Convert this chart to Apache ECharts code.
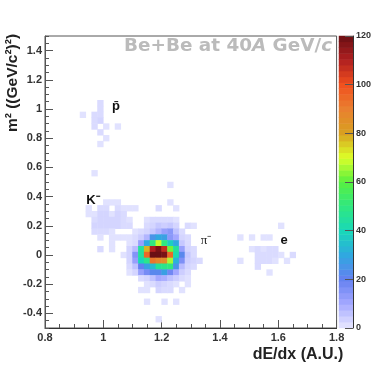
<!DOCTYPE html>
<html>
<head>
    <meta charset="utf-8">
    <title>Be+Be at 40A GeV/c</title>
    <style>html,body{margin:0;padding:0;background:#fff}</style>
</head>
<body>
    <div id="main" style="width:374px;height:365px;"></div>
    <script src="https://cdn.jsdelivr.net/npm/echarts@6/dist/echarts.min.js"></script>
    <script type="text/javascript">
        // tick labels of the m2 axis, palette stops of the colour scale (0 -> 120, every 10)
        var m2Ticks = [-0.4, -0.2, 0, 0.2, 0.4, 0.6, 0.8, 1, 1.2, 1.4];
        var palette = ['#e8e8ff', '#a4a8ff', '#6480f0', '#30a8e0', '#18d8b8', '#30e880', '#58f040',
                       '#dcff28', '#d8a020', '#e98030', '#f0501e', '#b02020', '#6b0f14'];

        // histogram: row number (from the bottom, 0.04 per row),
        // first dE/dx bin of the row (0.02 per bin), counts from that bin on
        var rowNumber = [
            38, 37, 36, 35, 34, 33, 32, 31, 26,
            24, 21, 20, 19, 18, 17, 16, 15, 14,
            13, 12, 11, 10, 9, 8, 7, 6, 4, 1
        ];
        var rowFirstBin = [
            9, 9, 6, 8, 8, 9, 10, 9, 8,
            21, 10, 7, 7, 8, 8, 8, 9, 11,
            9, 13, 14, 14, 14, 16, 17, 16, 17, 19
        ];
        var rowCounts = [
            [2],
            [2],
            [1, 0, 2, 2],
            [2, 3],
            [2, 0, 1, 0, 1],
            [2],
            [1],
            [1],
            [1],
            [1],
            [1, 1, 1, 0, 0, 0, 0, 0, 0, 0, 0, 1],
            [1, 0, 2, 2, 0, 2, 1, 1, 1, 0, 0, 0, 2, 0, 0, 1],
            [1, 1, 3, 3, 1, 3, 2],
            [2, 3, 3, 3, 3, 2, 1, 0, 0, 1, 2, 2, 2, 2, 1],
            [3, 3, 3, 3, 3, 2, 2, 0, 0, 2, 3, 5, 4, 5, 3, 0, 2, 1, 0, 0, 0, 0, 0, 0, 0, 0, 0, 0, 0, 0, 0, 0, 1],
            [2, 2, 2, 1, 0, 0, 0, 1, 2, 3, 5, 8, 12, 14, 6, 2],
            [1, 0, 1, 1, 1, 1, 2, 4, 8, 25, 30, 28, 14, 10, 3, 2, 0, 0, 0, 0, 0, 0, 0, 0, 1, 0, 1, 0, 1, 1],
            [1, 0, 0, 1, 2, 12, 30, 50, 68, 50, 38, 30, 5, 2],
            [2, 0, 1, 0, 0, 3, 7, 45, 78, 110, 118, 107, 62, 45, 12, 3, 2, 0, 0, 0, 0, 0, 0, 0, 0, 0, 1, 2, 1, 2, 2],
            [1, 3, 15, 45, 95, 120, 120, 118, 95, 42, 22, 5, 2, 0, 0, 0, 0, 0, 0, 0, 0, 0, 0, 2, 2, 2, 2, 1, 0, 2],
            [3, 12, 40, 48, 92, 88, 86, 66, 32, 16, 4, 3, 2, 0, 0, 0, 0, 0, 0, 1, 0, 0, 2, 2, 2, 1, 0, 1],
            [2, 6, 20, 28, 34, 46, 48, 50, 25, 7, 3, 2, 0, 0, 0, 0, 0, 0, 0, 0, 0, 0, 2],
            [1, 3, 12, 17, 22, 22, 28, 18, 10, 4, 2, 0, 0, 0, 0, 0, 0, 0, 0, 0, 0, 0, 0, 0, 1],
            [2, 3, 6, 10, 9, 6, 4, 2, 1],
            [1, 2, 4, 3, 2, 1, 0, 1],
            [1, 1, 0, 3, 2, 2, 0, 1],
            [1, 0, 0, 1, 0, 1],
            [1]
        ];

        var dedxBins = [], m2Bins = [], cells = [];
        for (var b = 0; b < 50; b++) { dedxBins.push(b); m2Bins.push(b); }
        rowNumber.forEach(function (row, n) {
            rowCounts[n].forEach(function (count, k) {
                if (count > 0) cells.push([rowFirstBin[n] + k, row, count]);
            });
        });

        // the colour bar is 50 bands of the same palette, like the 50 contours of the original
        var barLevels = [], barCells = [];
        for (var l = 0; l < 50; l++) {
            barLevels.push(l);
            barCells.push([0, l, (l + 0.5) * 2.4]);
        }

        var tickColor = '#555';
        var labelStyle = { fontFamily: 'Liberation Sans', fontWeight: 'bold', color: '#333' };

        var myChart = echarts.init(document.getElementById('main'));

        var option = {
            animation: false,
            title: {
                left: 124, top: 37, padding: 0,
                text: '{b|Be+Be at 40}{i|A}{b| GeV/}{i|c}',
                textStyle: {
                    rich: {
                        b: { fontFamily: 'DejaVu Sans', fontWeight: 'bold', fontSize: 18.4, color: '#bbb' },
                        i: { fontFamily: 'DejaVu Sans', fontWeight: 'bold', fontStyle: 'italic', fontSize: 18.4, color: '#bbb' }
                    }
                }
            },
            grid: [
                { left: 45, top: 36, width: 291.6, height: 292, show: true, borderColor: tickColor, borderWidth: 1, backgroundColor: '#fff' },
                { left: 339, top: 36, width: 16, height: 292, show: false }
            ],
            xAxis: [
                // the heatmap needs band axes, the visible scale is the value axis below
                { type: 'category', gridIndex: 0, data: dedxBins, show: false },
                {
                    type: 'value', gridIndex: 0, position: 'bottom', min: 0.8, max: 1.8, interval: 0.2,
                    axisLine: { onZero: false, lineStyle: { color: '#333' } },
                    axisTick: { inside: true, length: 8, lineStyle: { color: tickColor } },
                    minorTick: { show: true, splitNumber: 4, length: 4, lineStyle: { color: tickColor } },
                    splitLine: { show: false },
                    axisLabel: Object.assign({ fontSize: 11, margin: 4 }, labelStyle)
                },
                { type: 'category', gridIndex: 1, data: [0], show: false }
            ],
            yAxis: [
                { type: 'category', gridIndex: 0, data: m2Bins, show: false },
                {
                    // major ticks and labels: -0.5 is no multiple of 0.2, so they are listed
                    type: 'value', gridIndex: 0, position: 'left', min: -0.5, max: 1.5,
                    axisLine: { onZero: false, lineStyle: { color: tickColor } },
                    axisTick: { inside: true, length: 8, customValues: m2Ticks, lineStyle: { color: tickColor } },
                    splitLine: { show: false },
                    axisLabel: Object.assign({ fontSize: 11, margin: 3, customValues: m2Ticks }, labelStyle)
                },
                { type: 'category', gridIndex: 1, data: barLevels, show: false },
                {
                    type: 'value', gridIndex: 1, position: 'right', min: 0, max: 120, interval: 20, z: 10,
                    axisLine: { onZero: false, show: true, lineStyle: { color: '#333' } },
                    axisTick: { show: true, inside: true, length: 8, lineStyle: { color: tickColor } },
                    splitLine: { show: false },
                    axisLabel: Object.assign({ fontSize: 9, margin: 3 }, labelStyle)
                },
                {
                    // minor ticks of the m2 axis
                    type: 'value', gridIndex: 0, position: 'left', min: -0.5, max: 1.5, interval: 0.05,
                    axisLine: { show: false, onZero: false },
                    axisTick: { show: true, inside: true, length: 4, lineStyle: { color: tickColor } },
                    splitLine: { show: false },
                    axisLabel: { show: false }
                }
            ],
            visualMap: {
                type: 'continuous', seriesIndex: [0, 1], min: 0, max: 120, show: false,
                inRange: { color: palette }
            },
            series: [{
                type: 'heatmap',
                xAxisIndex: 0,
                yAxisIndex: 0,
                data: cells,
                itemStyle: { borderWidth: 0 },
                emphasis: { disabled: true }
            }, {
                type: 'heatmap',
                xAxisIndex: 2,
                yAxisIndex: 2,
                data: barCells,
                itemStyle: { borderWidth: 0 },
                emphasis: { disabled: true }
            }],
            graphic: [
                { type: 'text', x: 298, y: 355, style: { text: 'dE/dx (A.U.)', align: 'center', verticalAlign: 'middle', font: 'bold 16px "Liberation Sans"', fill: '#222' } },
                { type: 'text', x: 13, y: 83, rotation: Math.PI / 2, style: { text: 'm\u00b2 ((GeV/c\u00b2)\u00b2)', align: 'center', verticalAlign: 'middle', font: 'bold 15.5px "Liberation Sans"', fill: '#222' } },
                { type: 'text', x: 116, y: 106, style: { text: 'p\u0304', align: 'center', verticalAlign: 'middle', font: 'bold 13px "Liberation Sans"', fill: '#111' } },
                { type: 'text', x: 93, y: 200, style: { text: 'K\u207b', align: 'center', verticalAlign: 'middle', font: 'bold 13px "Liberation Sans"', fill: '#111' } },
                { type: 'text', x: 206, y: 241, style: { text: '\u03c0\u207b', align: 'center', verticalAlign: 'middle', font: '13px "Liberation Serif"', fill: '#222' } },
                { type: 'text', x: 284, y: 240, style: { text: 'e', align: 'center', verticalAlign: 'middle', font: 'bold 13px "Liberation Sans"', fill: '#111' } }
            ]
        };

        myChart.setOption(option);
    </script>
</body>
</html>
